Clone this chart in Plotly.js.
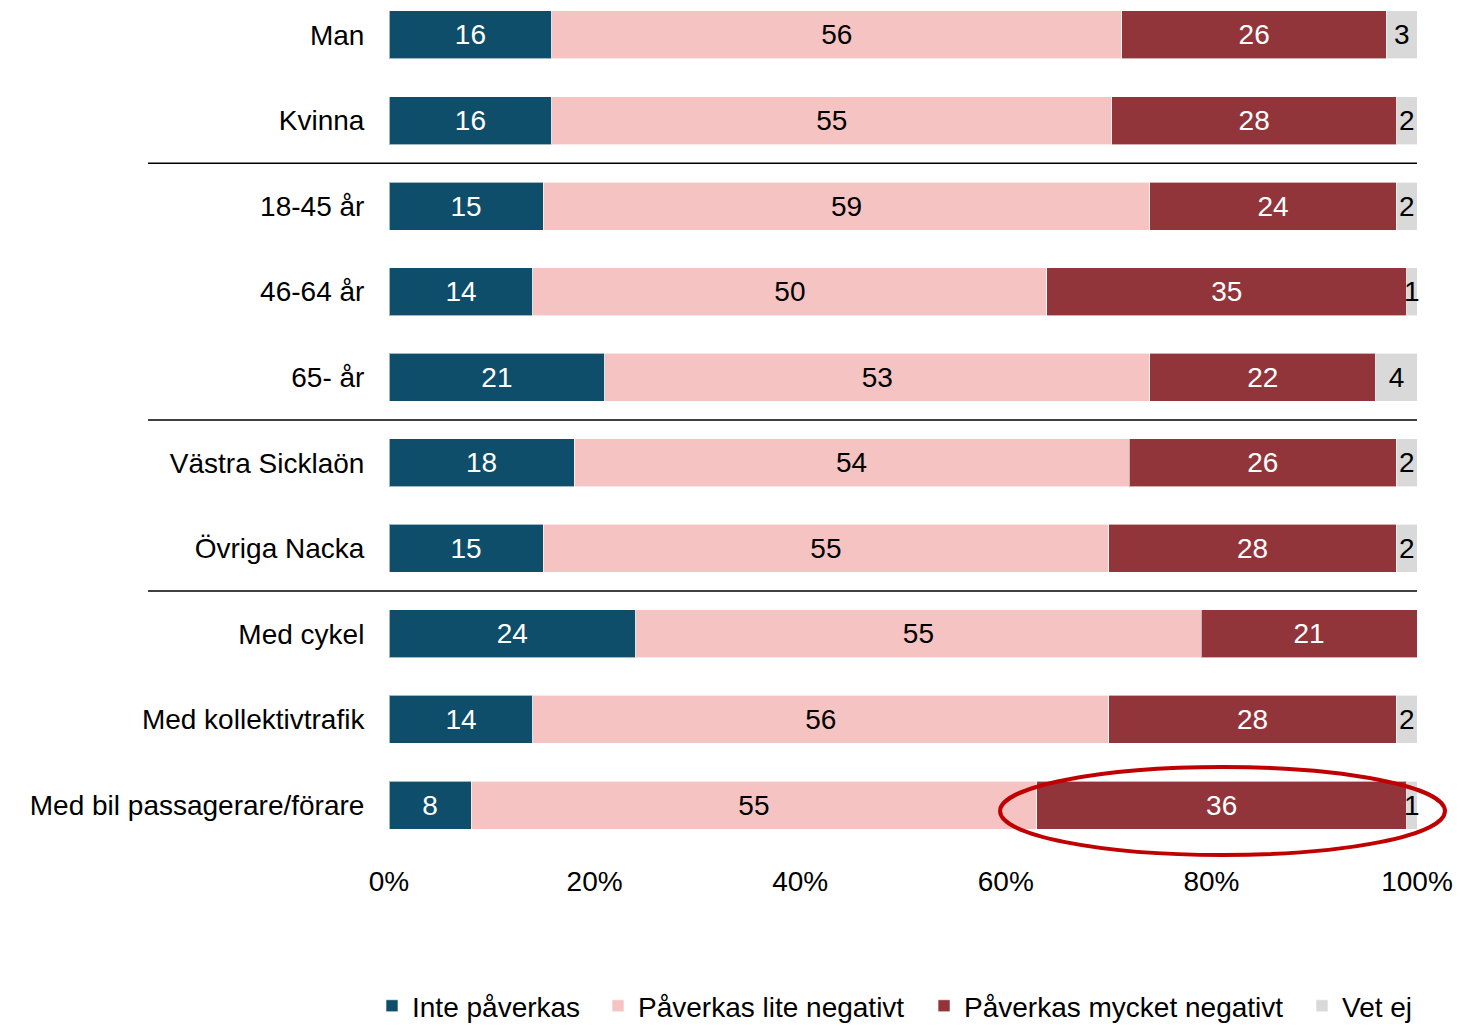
<!DOCTYPE html>
<html>
<head>
<meta charset="utf-8">
<script src="https://cdn.plot.ly/plotly-3.0.1.min.js"></script>
<style>html,body{margin:0;padding:0;background:#fff;}#chart{width:1460px;height:1027px;}</style>
</head>
<body>
<div id="chart"></div>
<script>
var categories = ["Man", "Kvinna", "18-45 år", "46-64 år", "65- år", "Västra Sicklaön", "Övriga Nacka", "Med cykel", "Med kollektivtrafik", "Med bil passagerare/förare"];
var seriesNames = ["Inte påverkas", "Påverkas lite negativt", "Påverkas mycket negativt", "Vet ej"];
var intePaverkas = [16, 16, 15, 14, 21, 18, 15, 24, 14, 8];
var liteNegativt = [56, 55, 59, 50, 53, 54, 55, 55, 56, 55];
var mycketNegativt = [26, 28, 24, 35, 22, 26, 28, 21, 28, 36];
var vetEj = [3, 2, 2, 1, 4, 2, 2, 0, 2, 1];
var xTickVals = [0, 20, 40, 60, 80, 100];

var colors = ["#0f4e6b", "#f6c3c3", "#92353b", "#d9d9d9"];
var textColors = ["#ffffff", "#000000", "#ffffff", "#000000"];
var allSeries = [intePaverkas, liteNegativt, mycketNegativt, vetEj];
var legendIds = ["legend", "legend2", "legend3", "legend4"];
var legendX = [0.2548, 0.4096, 0.6329, 0.8918];
var FONT = "Liberation Sans, Arial, sans-serif";

var traces = allSeries.map(function (vals, i) {
  return {
    type: "bar",
    orientation: "h",
    name: seriesNames[i],
    legend: legendIds[i],
    y: categories,
    x: vals,
    text: vals.map(function (v) { return v === 0 ? "" : String(v); }),
    texttemplate: "%{text}",
    textposition: "inside",
    insidetextanchor: "middle",
    textangle: 0,
    constraintext: "none",
    cliponaxis: false,
    insidetextfont: { family: FONT, size: 28, color: textColors[i] },
    marker: { color: colors[i], line: { color: "rgba(255,255,255,0.6)", width: 1 } },
    hoverinfo: "skip"
  };
});

var sepY = [1.5, 4.5, 6.5];
var shapes = sepY.map(function (y) {
  return { type: "line", xref: "paper", yref: "y", x0: -0.2344, x1: 1, y0: y, y1: y,
           line: { color: "#000000", width: 1.5 } };
});
shapes.push({ type: "circle", xref: "paper", yref: "paper", x0: 0.5944, x1: 1.0272, y0: -0.0059, y1: 0.0976,
              line: { color: "#c00000", width: 4 } });

var layout = {
  width: 1460, height: 1027,
  margin: { l: 389, r: 43, t: 0, b: 177, autoexpand: false },
  paper_bgcolor: "#ffffff", plot_bgcolor: "#ffffff",
  barmode: "stack", barnorm: "percent", bargap: 0.439,
  font: { family: FONT, size: 28, color: "#000000" },
  xaxis: { range: [0, 100], tickvals: xTickVals, ticktext: xTickVals.map(function (v) { return v + "%"; }),
           showgrid: false, zeroline: false, showline: false, ticks: "outside", ticklen: 6,
           tickcolor: "rgba(0,0,0,0)", tickfont: { family: FONT, size: 28, color: "#000" }, fixedrange: true },
  yaxis: { type: "category", range: [9.526, -0.409], showgrid: false, zeroline: false, showline: false,
           ticks: "outside", ticklen: 18, tickcolor: "rgba(0,0,0,0)",
           tickfont: { family: FONT, size: 28, color: "#000" }, fixedrange: true },
  showlegend: true,
  shapes: shapes
};
legendIds.forEach(function (id, i) {
  layout[id] = { orientation: "h", xref: "container", x: legendX[i], xanchor: "left",
                 yref: "container", y: 0.0204, yanchor: "middle",
                 font: { family: FONT, size: 28, color: "#000" }, itemwidth: 30,
                 bgcolor: "rgba(0,0,0,0)" };
});

Plotly.newPlot("chart", traces, layout, { displayModeBar: false, staticPlot: true });
</script>
</body>
</html>
